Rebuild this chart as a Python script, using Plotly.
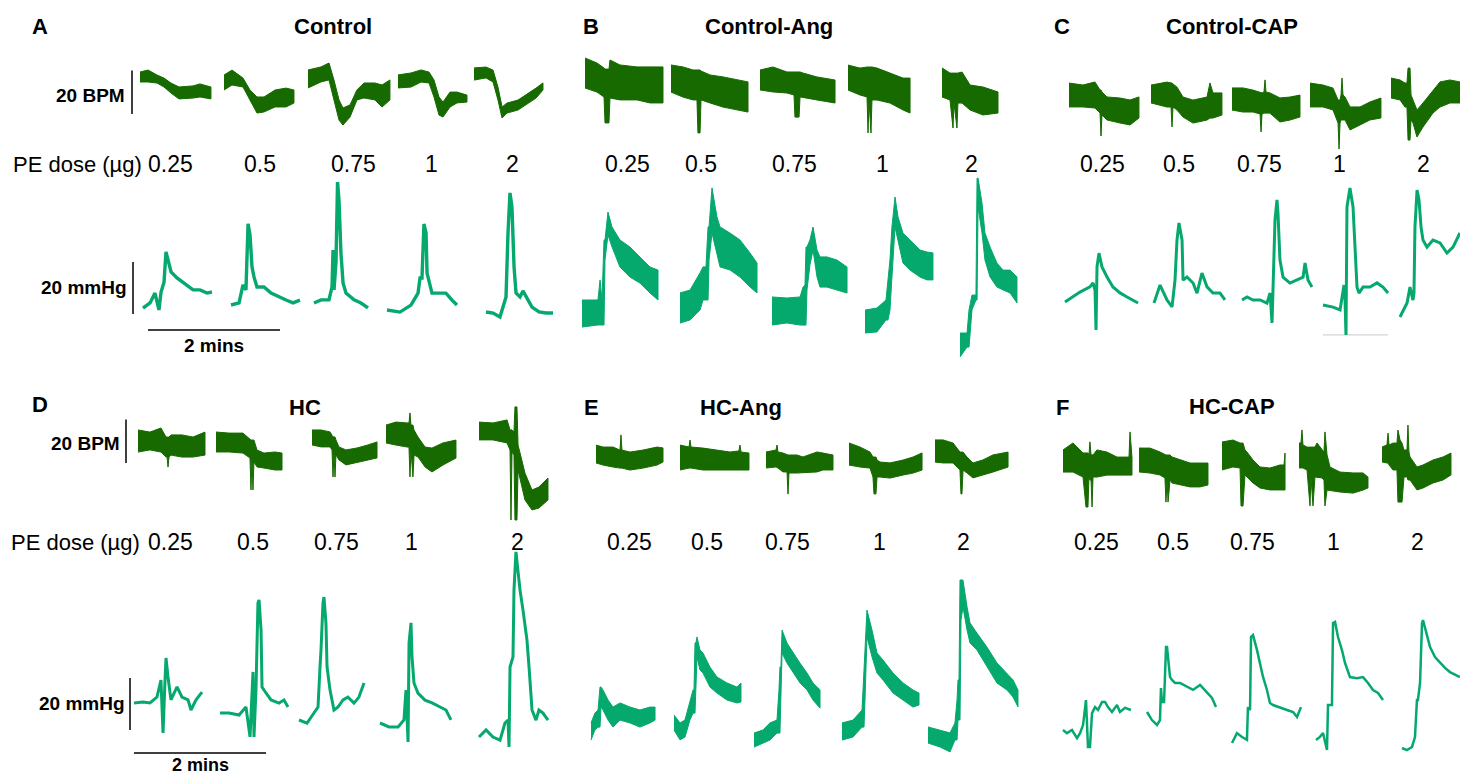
import plotly.graph_objects as go

# ---------------- scales (px per unit) ----------------
W, H = 1460, 777
PX_PER_S = 1.1       # 2 min scale bar = 132 px
PX_PER_BPM = 2.17    # 20 BPM scale bar = 43 px
PX_PER_MMHG = 2.6    # 20 mmHg scale bar = 52 px

DOSES = ["0.25", "0.5", "0.75", "1", "2"]

# ---------------- data: heart rate (t in s, upper/lower envelope in BPM vs start) ----------------
A_HR = {
    "0.25": ([0,7.3,15.5,21.8,28.2,35.5,48.2,54.5,64.5], [2.3,3.2,0.9,-0.5,-2.8,-4.6,-4.1,-3.2,-4.6], [-2.3,-2.3,-2.8,-4.6,-7.4,-10.1,-9.7,-9.2,-10.1]),
    "0.5": ([0,7.3,17.3,23.6,30,36.4,46.4,56.4,63.6], [3.2,5.5,1.8,-3.7,-6.9,-6.9,-3.7,-2.8,-3.7], [-3.7,-1.4,-2.3,-8.3,-14.3,-13.8,-11.5,-11.5,-9.7]),
    "0.75": ([0,11.8,19.1,23.6,28.2,31.8,38.2,44.5,50.9,60.9,67.3,74.5], [3.7,5.1,6.9,-0.9,-10.1,-13.8,-12.4,-5.5,-2.3,-2.3,-3.2,-0.9], [-4.6,-1.8,-0.9,-10.1,-19.4,-21.7,-18,-10.1,-9.2,-10.1,-13.4,-10.1]),
    "1": ([0,11.8,20.9,28.2,32.7,37.3,40.9,47.3,53.6,62.7], [2.8,3.7,5.1,4.1,0.5,-7.4,-9.7,-5.1,-5.1,-6.5], [-3.2,-2.8,-0.5,-0.9,-7.4,-15.7,-16.6,-12,-10.1,-9.7]),
    "2": ([0,10.9,17.3,21.8,25.5,30,40,50,56.4,62.7], [2.8,3.2,1.8,-6,-15.2,-13.4,-12,-8.8,-6.5,-4.1], [-2.8,-1.8,-3.7,-12,-20.3,-18,-16.6,-13.4,-11.1,-7.4]),
}
B_HR = {
    "0.25": ([0,10.9,17.3,18.2,21.8,22.7,31.8,47.3,59.1,70.9], [6.9,4.6,2.3,1.8,1.8,6,3.7,2.8,2.8,2.8], [-6.9,-8.8,-11.1,-23,-23,-11.5,-12.4,-12.4,-13.8,-13.8]),
    "0.5": ([0,10.9,20,23.6,24.5,26.4,27.3,35.5,47.3,60,70], [6,5.1,3.7,3.7,3.7,3.7,3.2,1.4,0.5,-0.9,-1.8], [-6.5,-8.8,-10.1,-10.1,-25.3,-25.3,-10.1,-11.5,-13.4,-14.7,-15.7]),
    "0.75": ([0,11.8,24.5,30.9,31.8,35.5,36.4,39.1,51.8,68.2], [4.6,6,3.7,3.7,3.7,3.7,3.7,3.2,1.4,0], [-4.6,-5.5,-6,-6.9,-17.1,-17.1,-7.8,-7.8,-9.2,-10.6]),
    "1": ([0,10.9,17.3,18.2,19.1,20.9,21.8,26.4,38.2,50,56.4], [5.5,4.1,4.6,4.6,4.6,4.6,4.6,4.1,1.8,-0.5,-0.5], [-6,-8.3,-9.2,-25.8,-10.6,-25.8,-10.6,-10.6,-12,-15.2,-16.6]),
    "2": ([0,7.3,10,10.9,13.6,14.5,18.2,25.5,37.3,50.9], [6.5,4.1,4.1,4.1,4.1,4.1,4.6,-1.4,-2.3,-4.6], [-6.9,-8.3,-21.2,-9.7,-21.2,-9.7,-9.7,-12.9,-15.2,-14.3]),
}
C_HR = {
    "0.25": ([0,12.7,23.6,28.2,29.1,30,34.5,46.4,55.5,63.6], [5.5,4.6,6,2.3,2.3,1.4,-0.9,-1.4,-2.3,-0.9], [-5.5,-5.5,-6,-8.3,-18.9,-9.2,-11.5,-12.9,-13.8,-10.6]),
    "0.5": ([0,14.5,18.2,19.1,20,23.6,29.1,38.2,50.9,53.6,56.4,64.5], [4.1,5.5,5.1,5.1,4.6,3.2,-1.4,-2.8,-1.4,5.1,0.5,0.5], [-4.1,-6,-6,-15.2,-6,-7.4,-10.6,-13.4,-12,-11.1,-11.1,-9.7]),
    "0.75": ([0,10,19.1,25.5,26.4,27.3,29.1,30,30.9,34.5,43.6,52.7,61.8], [5.1,5.1,4.1,2.8,2.8,2.8,3.2,8.8,3.2,2.8,0.5,0.9,1.8], [-5.1,-6,-6,-6.9,-15.2,-6.9,-6.5,-6.5,-6.5,-6.5,-10.6,-9.7,-8.3]),
    "1": ([0,11.8,20.9,25.5,26.4,27.3,28.2,29.1,30,31.8,36.4,45.5,54.5,64.5], [5.5,4.6,3.2,-2.3,-2.3,-2.3,0,7.8,0,-0.9,-5.5,-5.5,-3.2,-1.4], [-5.5,-5.5,-6.9,-12.9,-24.9,-12.9,-11.5,-11.5,-11.5,-11.5,-16.1,-13.8,-11.5,-10.6]),
    "2": ([0,8.2,12.7,14.5,15.5,17.3,18.2,20,23.6,29.1,38.2,44.5,53.6,62.7], [4.6,3.7,2.3,2.3,9.2,9.2,-3.2,-5.5,-10.1,-6.9,-0.9,2.8,3.7,2.8], [-4.6,-5.5,-8.8,-8.8,-24,-24,-14.7,-16.1,-22.6,-18,-11.5,-8.8,-6.9,-6.9]),
}
D_HR = {
    "0.25": ([0,10.9,20.9,25.5,26.4,27.3,28.2,30,40,50,60.9], [5.1,4.1,6,1.8,1.8,1.8,1.8,2.8,2.8,1.8,4.1], [-5.1,-4.1,-5.1,-7.4,-7.4,-12,-7.4,-6.5,-7.4,-7.4,-6.5]),
    "0.5": ([0,11.8,24.5,30.9,31.8,32.7,33.6,34.5,37.3,43.6,53.6,60], [4.6,4.1,4.1,0.9,0.9,0.9,0.9,0.9,-3.7,-5.1,-4.6,-5.1], [-4.6,-4.6,-5.1,-7.4,-22.1,-7.4,-22.1,-9.2,-11.5,-12,-12.9,-12.9]),
    "0.75": ([0,8.2,16.4,18.2,19.1,20,20.9,21.8,24.5,30.9,40.9,50.9,59.1], [3.7,3.7,2.8,0.9,0.5,0.5,0.5,-0.9,-4.1,-5.5,-4.6,-3.2,-1.8], [-3.2,-4.1,-4.1,-5.5,-18,-6.5,-18,-7.8,-10.1,-12.4,-11.1,-10.1,-9.2]),
    "1": ([0,9.1,19.1,20.9,21.8,22.7,24.5,25.5,29.1,35.5,41.8,51.8,63.6], [4.1,5.5,5.1,5.1,9.7,4.1,4.1,1.8,-1.4,-6,-6.5,-4.1,-2.8], [-4.1,-5.1,-6,-6,-19.8,-7.4,-19.8,-9.7,-10.6,-15.2,-17.5,-14.3,-11.1]),
    "2": ([0,12.7,25.5,28.2,29.1,30,31.8,32.7,34.5,35.5,37.3,41.8,48.2,54.5,62.7], [4.1,3.7,5.1,0.5,0.5,0.5,-0.5,11.1,11.1,-6.5,-10.1,-19.4,-27.2,-25.8,-21.7], [-4.1,-4.1,-5.5,-8.8,-41,-9.7,-11.1,-41,-41,-18,-21.2,-31.8,-36.4,-35.5,-31.8]),
}
E_HR = {
    "0.25": ([0,6.4,15.5,21.8,22.7,23.6,30.9,42.7,55.5,60.9], [4.1,3.2,3.2,1.8,8.8,1.8,0.9,1.8,3.2,2.8], [-4.1,-5.1,-6,-6.5,-6.5,-6.5,-7.4,-6.5,-5.1,-3.7]),
    "0.5": ([0,8.2,9.1,10,20.9,33.6,45.5,53.6,54.5,55.5,62.7], [5.5,4.6,7.8,4.6,4.1,3.2,2.3,2.8,5.5,2.3,1.8], [-6,-5.1,-5.1,-5.1,-6,-6,-6,-6,-6,-6,-6]),
    "0.75": ([0,9.1,10,10.9,15.5,19.1,20,20.9,28.2,33.6,46.4,51.8,60.9], [3.7,4.6,6.9,3.7,3.2,2.3,2.3,2.3,2.3,1.4,3.7,3.2,2.3], [-3.7,-3.2,-3.2,-3.7,-5.5,-5.5,-15.7,-6,-6,-6,-5.5,-4.6,-4.6]),
    "1": ([0,10,19.1,21.8,22.7,24.5,25.5,28.2,37.3,49.1,58.2,66.4], [5.1,3.2,0.9,-1.4,-1.4,-1.4,-2.8,-3.7,-4.1,-2.8,-1.4,0.5], [-5.1,-6,-6.5,-10.6,-18.4,-18.4,-10.6,-10.6,-11.1,-9.7,-8.8,-7.4]),
    "2": ([0,7.3,16.4,22.7,23.6,24.5,25.5,29.1,34.5,43.6,52.7,66.4], [5.1,5.1,3.7,-0.5,-0.5,-0.5,-0.5,-2.8,-5.5,-4.1,-1.8,-0.5], [-5.1,-5.5,-5.5,-8.8,-19.8,-19.8,-8.8,-10.1,-12.4,-11.1,-9.7,-7.4]),
}
F_HR = {
    "0.25": ([0,9.1,18.2,20.9,22.7,23.6,24.5,25.5,26.4,27.3,30.9,40,49.1,58.2,60,60.9,62.7], [5.1,8.3,3.7,3.7,3.7,2.8,8.8,2.8,2.8,2.8,5.1,4.1,1.8,1.8,1.8,13.4,1.8], [-5.1,-5.1,-7.4,-21.2,-21.2,-7.4,-8.8,-8.8,-21.2,-7.4,-7.4,-6.5,-6.5,-6.5,-6.5,-6.5,-6.5]),
    "0.5": ([0,10,19.1,23.6,24.5,25.5,26.4,28.2,30,37.3,46.4,55.5,62.7], [5.5,5.5,3.7,2.3,2.3,2.3,2.3,2.3,1.4,0,-1.4,-1.4,-1.4], [-5.5,-6,-6.9,-8.3,-19.4,-9.2,-19.4,-9.2,-10.6,-11.5,-12.4,-12.4,-11.5]),
    "0.75": ([0,10,16.4,17.3,19.1,20.9,22.7,28.2,34.5,43.6,52.7,56.4,57.3], [6,6.9,5.5,5.5,5.5,2.3,1.4,-2.3,-5.5,-6,-4.6,-4.6,0.9], [-6.9,-5.5,-6,-23.5,-23.5,-9.2,-10.1,-12.9,-15.2,-16.1,-16.1,-16.1,-16.1]),
    "1": ([0,1.8,2.7,3.6,7.3,10,10.9,12.7,14.5,16.4,20.9,22.7,23.6,25.5,28.2,37.3,49.1,58.2,62.7], [6,6,12,5.1,4.1,4.1,4.1,4.1,4.1,6,2.8,1.8,11.1,0.5,-5.1,-7.4,-7.8,-7.8,-9.7], [-5.5,-5.5,-5.5,-5.5,-6.5,-23,-9.7,-23,-9.7,-9.7,-10.1,-11.1,-23,-15.7,-15.7,-16.6,-17.1,-15.7,-14.7]),
    "2": ([0,4.5,5.5,6.4,10,13.6,14.5,16.4,18.2,20,22.7,23.6,24.5,25.5,31.8,37.3,46.4,55.5,62.7], [3.7,4.6,10.1,4.6,5.5,5.5,11.5,6.9,5.5,2.3,2.3,13.8,1.4,-0.9,-5.5,-4.6,-2.3,-0.9,0.9], [-3.2,-3.7,-3.7,-4.6,-6.9,-6.9,-21.7,-21.7,-21.7,-10.1,-10.1,-11.5,-11.5,-11.5,-16.1,-15.2,-12.9,-11.5,-9.2]),
}

# ---------------- data: blood pressure, thin traces (t in s, mmHg vs start) ----------------
A_BP = {
    "0.25": ([0,6.4,10.9,14.5,16.4,19.1,20.9,22.7,25.5,30.9,39.1,45.5,51.8,58.2,62.7], [-1.2,0.8,4.6,-1.9,5,8.8,20.4,17.3,12.7,10.4,7.7,5.8,5.8,4.6,5]),
    "0.5": ([0,7.3,10.9,13.6,15.5,17.3,19.1,20.9,23.6,30,36.4,43.6,50,56.4,62.7], [0,0.8,7.7,5.8,31.2,26.9,14.6,10.8,6.9,6.9,4.6,3.1,1.9,0.8,1.9]),
    "0.75": ([0,6.4,13.6,16.4,17.3,18.2,20,21.4,22.7,24.5,26.4,29.1,36.4,42.7,49.1], [0,1.2,1.2,6.2,20.4,5,15.8,46.5,39.6,19.2,7.7,3.8,1.2,0,-1.9]),
    "1": ([0,11.8,21.8,28.2,30,31.8,33.6,35.5,36.4,40.9,47.3,53.6,59.1,63.6], [0,-0.8,1.9,6.5,12.3,12.3,33.1,29.6,14.2,6.5,6.5,6.5,3.8,1.9]),
    "2": ([0,6.4,12.7,16.4,18.2,20,21.8,23.6,25.5,27.3,30.9,33.6,37.3,41.8,48.2,54.5,60.9], [0,-0.4,-1.9,2.7,5.8,30.4,45.8,40.4,17.3,7.3,5.8,8.1,5.4,1.9,0,-0.4,-0.4]),
}
C_BP = {
    "0.25": ([0,7.3,13.6,22.7,25.5,27.3,28.2,29.1,30.9,33.6,38.2,43.6,50,56.4,61.8,66.4], [0,1.9,3.8,5.8,7.3,4.6,-10.8,13.5,18.8,13.5,9.6,5.8,3.5,1.9,0.8,-0.4]),
    "0.5": ([0,5.5,11.8,16.4,19.1,20.9,22.7,25.5,26.4,30,35.5,39.1,43.6,48.2,53.6,60,64.5], [0,6.9,1.2,-1.5,8.8,24.2,30.8,24.2,8.8,10,7.7,3.8,11.5,6.2,3.8,3.8,1.2]),
    "0.75": ([0,4.5,10,16.4,22.7,25.5,27.3,28.2,30,31.8,32.7,34.5,37.3,43.6,50,55.5,57.3,60,63.6], [0,1.2,0,0,-1.2,2.7,-8.8,6.5,30.8,38.5,33.5,15.4,8.8,6.5,7.7,8.8,14.2,7.7,5]),
    "1": ([0,9.1,15.5,19.1,20,20.9,21.8,24.5,27.3,29.1,30.9,32.7,36.4,42.7,49.1,54.5,59.1], [0,-0.8,-1.9,7.7,1.9,-11.5,37.7,45,37.7,20,6.9,4.6,6.9,6.9,8.5,6.9,4.6]),
    "2": ([0,6.4,9.1,11.8,12.7,13.6,15.5,17.3,19.1,20.9,24.5,30,36.4,42.7,48.2,52.7,54.5], [0,5.4,11.5,6.5,9.2,34.6,48.8,45,34.6,29.6,26.9,29.6,28.5,24.6,26.9,30.8,32.3]),
}
C_BP_1_FLOOR = ([0, 59.1], [-11.5, -11.5])   # light grey trace under the 1 µg record
D_BP = {
    "0.25": ([0,8.2,14.5,20.9,24.5,26.4,28.2,29.1,30.9,33.6,39.1,43.6,49.1,51.8,56.4,61.8], [0,0.4,0,2.3,8.8,-11.5,8.8,17.3,10,1.2,6.2,2.3,1.2,-2.7,1.2,4.2]),
    "0.5": ([0,8.2,17.3,23.6,27.3,30,30.9,32.7,34.5,35.5,37.3,38.2,41.8,46.4,53.6,58.2,61.8], [0,0,-0.8,2.3,-9.2,15.8,-9.2,8.8,42.3,43.5,31.9,10,7.7,5,3.8,5,2.3]),
    "0.75": ([0,7.3,13.6,17.3,19.1,20,21.8,22.7,24.5,25.5,28.2,31.8,35.5,40,44.5,50,54.5,59.1], [0,-1.2,2.7,5,20.4,26.9,45,47.3,37.3,20.4,11.5,3.8,5,7.7,8.8,6.5,8.8,14.2]),
    "1": ([0,8.2,16.4,21.8,23.6,25.5,26.4,28.2,29.1,30.9,34.5,40.9,47.3,53.6,60,64.5], [0,-1.5,-1.5,1.2,12.7,-7.3,30.8,38.5,25.4,15.4,11.5,8.8,7.7,6.2,5,1.2]),
    "2": ([0,6.4,12.7,19.1,23.6,26.4,27.3,28.2,30.9,31.8,33.6,37.3,40,43.6,45.5,48.2,51.8,54.5,58.2,62.7], [0,2.7,0,-1.2,5.4,6.5,-3.8,26.9,30.8,56.5,71.2,56.5,48.8,37.3,26.9,10.4,6.5,10.4,9.2,6.5]),
}
F_BP = {
    "0.25": ([0,3.6,8.2,12.7,15.5,18.2,20.9,21.8,22.7,24.5,26.4,29.1,31.8,35.5,38.2,40.9,44.5,49.1,51.8,56.4,61.8], [0,-1.2,0,-3.1,-1.2,1.9,11.5,0,-6.5,-6.5,6.5,8.8,7.7,10.8,10.8,8.8,6.9,9.6,6.9,8.5,7.7]),
    "0.5": ([0,4.5,9.1,11.8,12.7,13.6,15.5,17.3,18.2,20.9,22.7,25.5,30,36.4,41.8,48.2,54.5,59.1,62.7], [0,-3.1,-5,-3.1,9.2,3.8,3.8,25,25,13.5,12.3,11.2,11.2,9.6,8.5,10.4,7.3,5.4,1.9]),
    "0.75": ([0,4.5,9.1,13.6,14.5,16.4,17.3,19.1,22.7,25.5,28.2,31.8,34.5,37.3,43.6,50,55.5,59.1,62.7], [0,3.8,2.3,1.2,13.8,12.7,40.8,41.5,35.8,30.8,25.4,20.4,15.4,14.6,13.8,12.7,11.9,10,13.8]),
    "1": ([0,3.6,6.4,10,10.9,14.5,15.5,17.3,20,23.6,26.4,30.9,37.3,42.7,47.3,51.8,56.4,60.9], [0,1.2,2.7,-3.8,13.5,13.5,45,45.4,39.6,34.6,29.6,24.2,23.8,24.2,21.9,19.2,18.1,15.4]),
    "2": ([0,4.5,9.1,11.8,13.6,14.5,16.4,18.2,19.1,22.7,25.5,30,34.5,39.1,43.6,48.2,52.7], [0,-0.8,0.4,4.2,18.5,18.5,25,48.1,49.2,42.7,38.8,35,32.7,30.8,29.2,28.1,27.3]),
}

# ---------------- data: blood pressure, noisy band traces (t, upper, lower in mmHg) ----------------
B_BP = {
    "0.25": ([0,14.5,16.4,18.2,20,20.9,23.6,27.3,34.5,43.6,52.7,61.8,69.1], [5,5,12.7,5,28.1,28.1,38.8,33.1,28.1,25.4,21.5,17.7,16.5], [-5.4,-4.6,-4.6,-4.6,-4.6,20.4,30,25.4,17.7,13.8,11.5,7.7,5]),
    "0.5": ([0,9.1,18.2,20.9,23.6,25.5,26.4,29.1,33.6,36.4,45.5,54.5,63.6,70], [5.8,6.9,13.5,15.8,15.8,31.2,31.2,46.2,35,31.2,28.8,26.2,21.2,17.3], [-5.8,-4.6,-0.8,3.1,3.1,3.1,18.5,28.8,21.2,15.8,14.6,11.9,8.1,5.8]),
    "0.75": ([0,13.6,25.5,28.2,30,30.9,31.8,34.5,37.3,40.9,43.6,50,59.1,68.2], [5.4,5,5.4,9.2,10,24.6,24.6,27.3,32.3,23.5,20.8,20.8,19.6,16.9], [-5.4,-4.6,-5.4,-5.4,-5.4,-5.4,8.1,17.7,23.5,13.1,9.2,9.2,8.1,6.9]),
    "1": ([0,10.9,19.1,20.9,22.7,24.5,27.3,30,34.5,40.9,50,56.4,61.8], [4.2,5,8.1,16.9,23.5,36.2,47.7,40,33.8,31.2,27.3,26.5,26.2], [-4.6,-4.2,0.4,0.4,4.2,16.9,36.2,31.2,22.3,19.6,16.9,15.8,15.8]),
    "2": ([0,6.4,8.2,10.9,14.5,15.5,16.4,20,22.7,27.3,33.6,39.1,45.5,51.8], [4.6,4.6,13.5,19.2,19.2,64.2,64.2,54.6,43.1,37.7,31.5,28.8,28.8,26.2], [-4.6,-0.8,-0.8,13.5,17.3,17.3,53.1,43.1,32.7,26.2,22.3,21.2,20,16.2]),
}
E_BP = {
    "0.25": ([0,3.6,6.4,8.2,9.1,10.9,15.5,20,26.4,35.5,44.5,53.6,58.2], [3.1,6.9,8.1,16.9,16.9,15.8,11.9,9.2,10.8,9.2,8.1,9.2,9.2], [-3.5,0.4,1.5,1.5,9.2,8.1,4.2,1.5,4.2,3.1,1.5,3.1,4.2]),
    "0.5": ([0,5.5,10,14.5,17.3,18.2,19.1,20,20.9,23.6,26.4,32.7,39.1,48.2,57.3,60.9], [3.1,0,1.2,7.7,12.7,12.7,30.8,30.8,33.1,28.1,26.9,21.5,17.7,15.4,13.8,15.4], [-2.7,-6.5,-5.4,1.2,3.8,3.8,3.8,8.8,25.4,20.4,19.2,13.8,11.5,8.8,7.7,8.1]),
    "0.75": ([0,8.2,14.5,20.9,22.7,23.6,24.5,25.5,30,35.5,41.8,48.2,53.6,60], [1.9,3.1,5.8,6.9,18.5,27.3,27.3,41.5,36.5,32.7,28.8,25,21.2,18.5], [-3.5,-1.9,-0.8,1.9,1.9,1.9,14.6,32.7,28.8,25,21.2,18.5,14.6,11.5]),
    "1": ([0,10,18.2,19.1,20,20.9,22.7,27.3,31.8,37.3,46.4,55.5,64.5,70], [3.1,4.2,8.1,15.8,27.3,32.3,46.5,38.8,30,27.3,22.3,18.5,15.8,14.6], [-3.5,-2.3,1.5,1.5,1.5,11.9,36.2,28.5,22.3,19.6,14.6,11.9,9.2,10]),
    "2": ([0,10.9,20,24.5,26.4,27.3,28.2,29.1,30,31.8,35.5,38.2,44.5,53.6,62.7,71.8,77.3,81.8], [3.1,1.9,0.8,4.6,13.5,21.2,21.2,59.6,59.6,59.6,49.2,43.1,39.2,33.8,27.7,23.8,21.2,17.3], [-3.1,-4.6,-6.5,-1.9,-1.9,5.8,5.8,5.8,44.2,49.2,40.4,35.4,32.7,26.2,20,17.3,14.6,10.8]),
}

SCALE_BPM, SCALE_MMHG, SCALE_S = 20, 20, 120

# ---------------- layout positions (px: start x, start level y) ----------------
POS = {
    ("A", "HR"): [(140, 77), (224, 82), (308, 78), (398, 81), (474, 74)],
    ("A", "BP"): [(143, 305), (231, 305), (314, 303), (387, 310), (486, 312)],
    ("B", "HR"): [(585, 73), (671, 78), (760, 80), (848, 77), (942, 82)],
    ("B", "BP"): [(582, 313), (680, 308), (772, 311), (865, 321), (960, 345)],
    ("C", "HR"): [(1069, 95), (1151, 94), (1232, 99), (1310, 95), (1391, 88)],
    ("C", "BP"): [(1065, 302), (1154, 303), (1242, 300), (1323, 305), (1400, 317)],
    ("D", "HR"): [(138, 441), (216, 442), (312, 438), (386, 434), (479, 431)],
    ("D", "BP"): [(134, 703), (220, 713), (299, 720), (380, 723), (479, 737)],
    ("E", "HR"): [(596, 454), (680, 457), (766, 460), (849, 454), (935, 451)],
    ("E", "BP"): [(591, 731), (674, 723), (754, 738), (842, 731), (928, 735)],
    ("F", "HR"): [(1063, 461), (1139, 460), (1222, 455), (1299, 456), (1382, 455)],
    ("F", "BP"): [(1063, 730), (1147, 712), (1232, 743), (1316, 740), (1402, 748)],
}
HR_COLOR = "#166a00"
BP_COLOR = "#05a86d"
FONT = "Liberation Sans, Arial, Helvetica, sans-serif"
BP_LINE_W = {"A": 3.4, "C": 3.0, "D": 3.0, "F": 2.5}

fig = go.Figure()

def xs_of(t, x0):
    return [x0 / PX_PER_S + v for v in t]

def add_band(t, hi, lo, x0, y0, per, axis, color):
    base = -y0 / per
    xs = xs_of(t, x0)
    ys = [base + v for v in hi] + [base + v for v in lo][::-1]
    fig.add_trace(go.Scatter(x=xs + xs[::-1], y=ys, mode="lines", fill="toself",
                             fillcolor=color, line=dict(color=color, width=1.0),
                             yaxis=axis, hoverinfo="skip", showlegend=False))

def add_line(t, v, x0, y0, per, axis, color, width):
    base = -y0 / per
    fig.add_trace(go.Scatter(x=xs_of(t, x0), y=[base + u for u in v], mode="lines",
                             line=dict(color=color, width=width),
                             yaxis=axis, hoverinfo="skip", showlegend=False))

HR_SETS = {"A": A_HR, "B": B_HR, "C": C_HR, "D": D_HR, "E": E_HR, "F": F_HR}
for p, data in HR_SETS.items():
    for d, (x0, y0) in zip(DOSES, POS[(p, "HR")]):
        t, hi, lo = data[d]
        add_band(t, hi, lo, x0, y0, PX_PER_BPM, "y", HR_COLOR)

for p, data in {"B": B_BP, "E": E_BP}.items():
    for d, (x0, y0) in zip(DOSES, POS[(p, "BP")]):
        t, hi, lo = data[d]
        add_band(t, hi, lo, x0, y0, PX_PER_MMHG, "y2", BP_COLOR)

# light grey floor under C 1 µg
cx0, cy0 = POS[("C", "BP")][3]
add_line(C_BP_1_FLOOR[0], C_BP_1_FLOOR[1], cx0, cy0, PX_PER_MMHG, "y2", "#d4d4d4", 1.2)

for p, data in {"A": A_BP, "C": C_BP, "D": D_BP, "F": F_BP}.items():
    for d, (x0, y0) in zip(DOSES, POS[(p, "BP")]):
        t, v = data[d]
        add_line(t, v, x0, y0, PX_PER_MMHG, "y2", BP_COLOR, BP_LINE_W[p])

# ---------------- scale bars ----------------
BAR_POS = {  # px anchors
    "A": dict(hr=(132, 114), bp=(133, 314), time=(148, 330)),
    "D": dict(hr=(126, 463), bp=(130, 730), time=(134, 753)),
}
for p, b in BAR_POS.items():
    hx, hy = b["hr"]
    fig.add_trace(go.Scatter(x=[hx / PX_PER_S] * 2, y=[-hy / PX_PER_BPM, -hy / PX_PER_BPM + SCALE_BPM],
                             mode="lines", line=dict(color="black", width=1.5), yaxis="y",
                             hoverinfo="skip", showlegend=False))
    bx, by = b["bp"]
    fig.add_trace(go.Scatter(x=[bx / PX_PER_S] * 2, y=[-by / PX_PER_MMHG, -by / PX_PER_MMHG + SCALE_MMHG],
                             mode="lines", line=dict(color="black", width=1.5), yaxis="y2",
                             hoverinfo="skip", showlegend=False))
    tx, ty = b["time"]
    fig.add_trace(go.Scatter(x=[tx / PX_PER_S, tx / PX_PER_S + SCALE_S], y=[-ty / PX_PER_MMHG] * 2,
                             mode="lines", line=dict(color="black", width=1.5), yaxis="y2",
                             hoverinfo="skip", showlegend=False))

# ---------------- text ----------------
def txt(s, x, y, size, bold=False, anchor="center"):
    fig.add_annotation(text=f"<b>{s}</b>" if bold else s, x=x / W, y=1 - y / H,
                       xref="paper", yref="paper", showarrow=False, xanchor=anchor,
                       yanchor="middle", font=dict(family=FONT, size=size, color="black"))

PANEL_LETTERS = {"A": (40, 26), "B": (591, 26), "C": (1062, 26), "D": (40, 405), "E": (591, 408), "F": (1062, 408)}
TITLES = {"Control": (333, 26), "Control-Ang": (769, 26), "Control-CAP": (1232, 26),
          "HC": (305, 408), "HC-Ang": (741, 408), "HC-CAP": (1232, 406)}
DOSE_X = {
    "A": [170, 260, 353, 431, 512], "B": [627, 701, 795, 882, 971], "C": [1102, 1179, 1259, 1339, 1423],
    "D": [170, 253, 336, 411, 517], "E": [629, 707, 787, 879, 964], "F": [1096, 1173, 1252, 1333, 1417],
}
DOSE_Y = {"A": 164, "B": 164, "C": 164, "D": 542, "E": 542, "F": 542}

for k, (x, y) in PANEL_LETTERS.items():
    txt(k, x, y, 22, bold=True)
for k, (x, y) in TITLES.items():
    txt(k, x, y, 22, bold=True)
for p, xs in DOSE_X.items():
    for d, x in zip(DOSES, xs):
        txt(d, x, DOSE_Y[p], 23)
txt("PE dose (µg)", 11, 164, 22, anchor="left")
txt("PE dose (µg)", 9, 542, 22, anchor="left")
txt("20 BPM", 127, 95, 19, bold=True, anchor="right")
txt("20 mmHg", 129, 287, 19, bold=True, anchor="right")
txt("2 mins", 214, 346, 19, bold=True)
txt("20 BPM", 122, 443, 19, bold=True, anchor="right")
txt("20 mmHg", 127, 703, 19, bold=True, anchor="right")
txt("2 mins", 200, 765, 18, bold=True)

fig.update_layout(
    width=W, height=H, margin=dict(l=0, r=0, t=0, b=0),
    paper_bgcolor="white", plot_bgcolor="white", showlegend=False,
    xaxis=dict(range=[0, W / PX_PER_S], visible=False, fixedrange=True),
    yaxis=dict(range=[-H / PX_PER_BPM, 0], visible=False, fixedrange=True),
    yaxis2=dict(range=[-H / PX_PER_MMHG, 0], visible=False, fixedrange=True, overlaying="y"),
)
fig.write_html("out.html", config={"displayModeBar": False},
               post_script="document.body.style.margin='0';document.body.style.overflow='hidden';")
